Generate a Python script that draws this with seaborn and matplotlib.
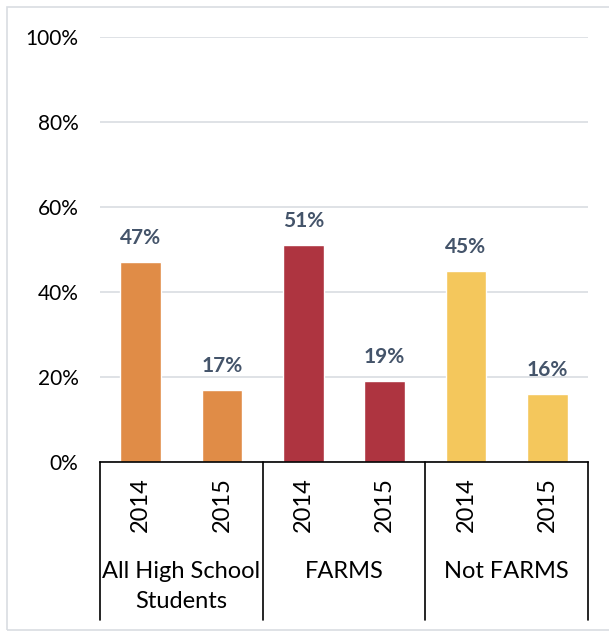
import matplotlib
matplotlib.use("Agg")
import matplotlib.pyplot as plt
import seaborn as sns
import pandas as pd
from matplotlib.patches import Rectangle
from matplotlib.lines import Line2D

groups = ["All High School\nStudents", "FARMS", "Not FARMS"]
years = ["2014", "2015"]
values = [47, 17, 51, 19, 45, 16]
colors = ["#E08C47", "#E08C47", "#AE3440", "#AE3440", "#F4C75C", "#F4C75C"]
ytick_labels = ["0%", "20%", "40%", "60%", "80%", "100%"]

rows = []
for gi, g in enumerate(groups):
    for yi, y in enumerate(years):
        rows.append({"slot": f"{g}|{y}", "group": g, "year": y,
                     "value": values[gi * 2 + yi]})
df = pd.DataFrame(rows)

sns.set_theme(style="white")
plt.rcParams["font.family"] = ["Lato", "DejaVu Sans"]

W, H = 609, 631
fig = plt.figure(figsize=(W / 100, H / 100), dpi=100)
# outer frame
fig.add_artist(Rectangle((7 / W, 1 - 630 / H), 700 / W, (630 - 7) / H,
                         transform=fig.transFigure, fill=False,
                         edgecolor="#D9DDE2", lw=1.2))

ax = fig.add_axes([100 / W, 1 - 462 / H, 488 / W, (462 - 37) / H])
sns.barplot(data=df, x="slot", y="value", hue="slot", palette=colors,
            width=0.5, legend=False, ax=ax, saturation=1)
ax.set_ylim(0, 100)
ax.set_xlim(-0.5, 5.5)
ax.set_yticks([0, 20, 40, 60, 80, 100])
ax.set_yticklabels(ytick_labels, fontsize=15, color="black")
ax.tick_params(axis="y", length=0, pad=15.5)
ax.set_xticks([])
ax.set_xlabel("")
ax.set_ylabel("")
for s in ["top", "right", "left"]:
    ax.spines[s].set_visible(False)
ax.spines["bottom"].set_color("black")
ax.spines["bottom"].set_linewidth(1.2)
ax.yaxis.grid(True, color="#D9DDE2", lw=1.2)
ax.set_axisbelow(True)

for i, v in enumerate(values):
    ax.text(i, v + 3.3, f"{v}%", ha="center", va="bottom", fontsize=15,
            fontweight="bold", color="#44546A")

trans = ax.get_xaxis_transform()
# year labels
for i in range(6):
    ax.text(i, (462 - 505) / 425, years[i % 2], transform=trans, rotation=90,
            ha="center", va="center", fontsize=17, color="black", clip_on=False)
# group labels
for gi, g in enumerate(groups):
    ax.text(gi * 2 + 0.5, (462 - 561) / 425, g, transform=trans, ha="center",
            va="top", fontsize=17, color="black", linespacing=1.5,
            clip_on=False)
# dividers
for x in [-0.5, 1.5, 3.5, 5.5]:
    ax.add_line(Line2D([x, x], [0, (462 - 620) / 425], transform=trans,
                       color="black", lw=1.2, clip_on=False))

fig.savefig("out.png", dpi=100)
